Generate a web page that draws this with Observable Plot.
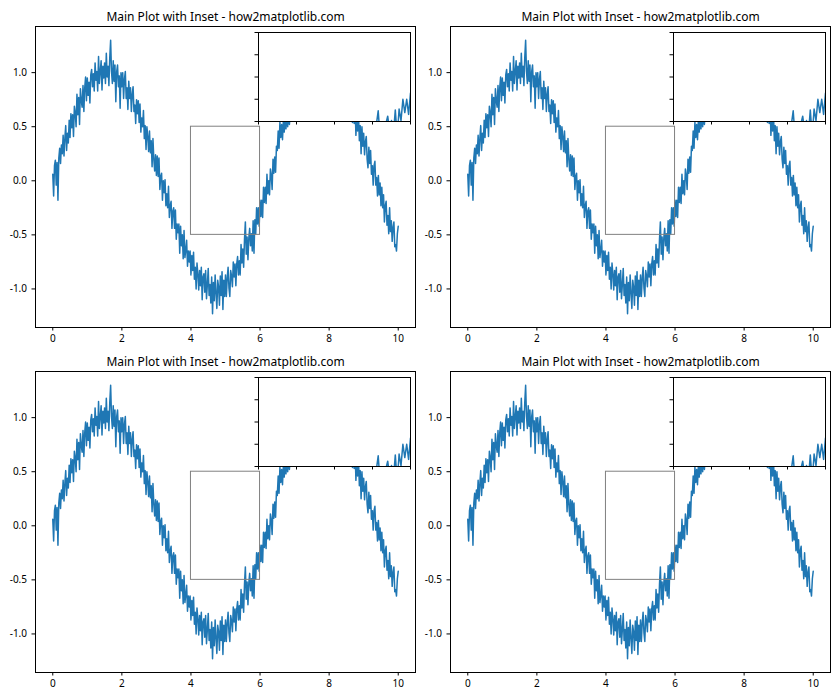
<!DOCTYPE html>
<html><head><meta charset="utf-8">
<script src="https://cdn.jsdelivr.net/npm/d3@7"></script>
<script src="https://cdn.jsdelivr.net/npm/@observablehq/plot@0.6"></script>
<style>
html,body{margin:0;padding:0;background:#fff;}
#fig{position:relative;width:840px;height:700px;overflow:hidden;background:#fff;}
.panel,.inset{position:absolute;}
</style></head><body><div id="fig"></div>
<script>
const ys = [
0.06,-0.14,0.14,0.19,-0.04,0.17,-0.18,0.21,0.30,0.16,0.33,0.25,0.42,0.23,0.39,0.51,0.28,0.44,0.35,0.56,
0.40,0.62,0.49,0.61,0.41,0.69,0.63,0.50,0.80,0.61,0.77,0.52,0.85,0.74,0.68,0.88,0.64,0.86,0.96,0.74,
0.95,0.79,0.91,0.72,0.98,1.03,0.87,0.99,0.83,1.09,0.93,1.01,0.83,1.15,0.90,1.01,1.11,0.84,1.06,0.95,
1.09,0.90,1.18,0.96,1.06,0.88,1.14,1.30,1.01,0.90,1.11,0.92,1.07,0.73,1.01,1.07,0.87,0.97,0.67,1.00,
0.87,1.00,0.76,0.94,1.01,0.76,0.86,0.66,0.92,0.76,0.86,0.64,0.80,0.87,0.64,0.70,0.53,0.75,0.62,0.74,
0.54,0.71,0.45,0.58,0.50,0.65,0.39,0.51,0.29,0.50,0.41,0.27,0.46,0.26,0.37,0.13,0.39,0.20,0.09,0.24,
0.05,0.23,0.04,0.21,-0.08,0.04,0.07,-0.18,0.00,-0.11,0.01,-0.23,-0.12,-0.25,-0.05,-0.34,-0.23,-0.19,-0.44,-0.28,
-0.25,-0.44,-0.27,-0.54,-0.40,-0.48,-0.40,-0.67,-0.42,-0.60,-0.50,-0.72,-0.46,-0.71,-0.64,-0.55,-0.79,-0.65,-0.75,-0.65,
-0.87,-0.69,-0.83,-0.66,-0.91,-0.80,-1.00,-0.76,-0.86,-1.01,-0.83,-0.97,-0.80,-1.10,-0.89,-0.86,-1.03,-0.83,-1.09,-0.96,
-0.81,-1.06,-0.96,-1.13,-0.89,-1.23,-0.94,-1.11,-0.87,-1.04,-1.18,-0.92,-0.98,-1.15,-0.88,-1.06,-0.84,-1.19,-0.92,-1.07,
-0.87,-1.07,-0.90,-0.80,-0.99,-1.07,-0.83,-0.88,-0.98,-0.75,-0.89,-0.77,-0.97,-0.77,-0.70,-0.87,-0.74,-0.87,-0.59,-0.76,
-0.63,-0.80,-0.54,-0.38,-0.68,-0.52,-0.73,-0.53,-0.44,-0.60,-0.49,-0.65,-0.37,-0.67,-0.36,-0.49,-0.25,-0.40,-0.25,-0.42,
-0.18,-0.33,-0.18,-0.34,-0.06,-0.20,-0.06,-0.21,0.06,-0.12,0.00,-0.13,0.11,0.05,-0.08,0.20,0.07,0.22,0.08,0.32,
0.28,0.46,0.30,0.54,0.40,0.52,0.38,0.56,0.45,0.58,0.48,0.62,0.50,0.66,0.52,0.64,0.71,0.56,0.68,0.75,
0.71,0.57,0.81,0.64,0.82,0.61,0.80,0.89,0.71,0.83,0.70,0.98,0.80,0.93,0.78,1.02,0.87,0.99,0.78,0.99,
0.85,1.06,0.91,1.09,0.85,1.04,0.91,1.14,0.89,1.02,1.09,0.87,1.05,0.94,1.12,0.89,1.08,0.98,1.14,0.91,
1.06,0.87,1.08,0.93,1.10,0.87,0.98,0.81,1.05,0.87,1.00,0.80,0.94,1.01,0.75,0.93,0.79,0.94,0.68,0.87,
0.67,0.83,0.68,0.84,0.56,0.72,0.76,0.54,0.68,0.53,0.73,0.42,0.58,0.46,0.61,0.37,0.51,0.25,0.50,0.32,
0.44,0.24,0.36,0.41,0.20,0.12,0.31,0.16,0.28,0.06,0.14,-0.04,0.14,0.18,-0.04,0.03,-0.14,0.05,-0.13,-0.02,
-0.23,-0.06,-0.25,-0.13,-0.38,-0.23,-0.19,-0.41,-0.32,-0.49,-0.25,-0.47,-0.37,-0.56,-0.43,-0.38,-0.61,-0.59,-0.65,-0.49,
-0.42];
const xStep = 0.025;
const xs = ys.map((_, i) => +(i * xStep).toFixed(3));

const titles = ["Main Plot with Inset - how2matplotlib.com","Main Plot with Inset - how2matplotlib.com",
                "Main Plot with Inset - how2matplotlib.com","Main Plot with Inset - how2matplotlib.com"];
const xTicks = [0,2,4,6,8,10];
const yTicks = [-1.0,-0.5,0.0,0.5,1.0];
const insetXTicks = [4,4.5,5,5.5,6];
const insetYTicks = [-0.5,-0.25,0,0.25,0.5];
const zoomX = [4,6];
const zoomY = [-0.5,0.5];

const data = xs.map((x,i)=>({x, y: ys[i]}));
const yMin = d3.min(ys), yMax = d3.max(ys), pad = (yMax - yMin) * 0.05;
const xMin = d3.min(xs), xMax = d3.max(xs), padX = (xMax - xMin) * 0.05;
const font = "'Noto Sans', sans-serif";
const fig = document.getElementById("fig");
const panelPos = [[0,0],[415,0],[0,345],[415,345]];

panelPos.forEach(([px,py],k)=>{
  const main = Plot.plot({
    width:420, height:345, marginLeft:35, marginRight:5, marginTop:26, marginBottom:18,
    style:{fontFamily:font, fontSize:"10px", color:"#000", background:"transparent", overflow:"visible"},
    x:{domain:[xMin-padX, xMax+padX]},
    y:{domain:[yMin-pad, yMax+pad]},
    marks:[
      Plot.line(data,{x:"x",y:"y",stroke:"#1f77b4",strokeWidth:1.5,clip:true}),
      Plot.rect([{x1:zoomX[0],x2:zoomX[1],y1:zoomY[0],y2:zoomY[1]}],{x1:"x1",x2:"x2",y1:"y1",y2:"y2",fill:"none",stroke:"#808080",strokeWidth:1}),
      Plot.frame({stroke:"#000",strokeWidth:1}),
      Plot.axisX({ticks:xTicks,tickSize:3.5,tickPadding:4,label:null,tickFormat:d=>String(d),stroke:"#000"}),
      Plot.axisY({ticks:yTicks,tickSize:3.5,tickPadding:5,label:null,tickFormat:d=>d.toFixed(1),stroke:"#000"}),
      Plot.text([titles[k]],{frameAnchor:"top",lineAnchor:"bottom",dy:-6,fontSize:12,fill:"#000"})
    ]
  });
  const d1 = document.createElement("div");
  d1.className="panel"; d1.style.left=px+"px"; d1.style.top=py+"px";
  d1.appendChild(main); fig.appendChild(d1);

  const inset = Plot.plot({
    width:158, height:95, marginLeft:5, marginRight:1, marginTop:1, marginBottom:5,
    style:{fontFamily:font, fontSize:"10px", color:"#000", background:"transparent", overflow:"visible"},
    x:{domain:zoomX}, y:{domain:zoomY},
    marks:[
      Plot.frame({fill:"white"}),
      Plot.line(data,{x:"x",y:"y",stroke:"#1f77b4",strokeWidth:1.5,clip:true}),
      Plot.frame({stroke:"#000",strokeWidth:1}),
      Plot.axisX({ticks:insetXTicks,tickSize:3.5,tickFormat:()=>"",label:null,stroke:"#000"}),
      Plot.axisY({ticks:insetYTicks,tickSize:3.5,tickFormat:()=>"",label:null,stroke:"#000"})
    ]
  });
  const d2 = document.createElement("div");
  d2.className="inset"; d2.style.left=(px+253)+"px"; d2.style.top=(py+31)+"px";
  d2.appendChild(inset); fig.appendChild(d2);
});
</script></body></html>
